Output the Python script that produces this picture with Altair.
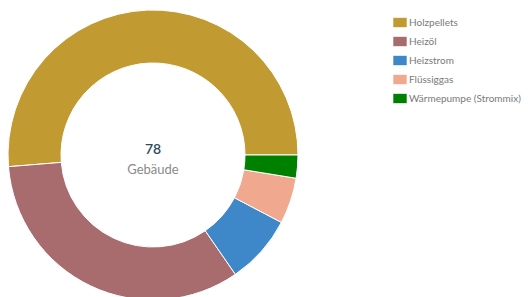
import math
import altair as alt
import pandas as pd

categories = ["Holzpellets", "Heizöl", "Heizstrom", "Flüssiggas", "Wärmepumpe (Strommix)"]
values = [40, 26, 6, 4, 2]
colors = ["#C19B32", "#A86C6F", "#3E88CA", "#F0A98E", "#008000"]
total_label = "78"
sub_label = "Gebäude"

df = pd.DataFrame({"cat": categories, "val": values, "idx": list(range(len(categories)))})
txt = pd.DataFrame({"a": [total_label], "b": [sub_label]})

CX, CY = 145, 147

arc = alt.Chart(df).mark_arc(innerRadius=92, outerRadius=145, stroke="white", strokeWidth=1).encode(
    theta=alt.Theta("val:Q", stack=True,
                    scale=alt.Scale(range=[math.pi / 2, math.pi / 2 + 2 * math.pi])),
    order=alt.Order("idx:Q", sort="descending"),
    color=alt.Color("cat:N", sort=categories,
                    scale=alt.Scale(domain=categories, range=colors),
                    legend=alt.Legend(title=None, orient="none", legendX=385, legendY=7.5,
                                      padding=0, rowPadding=7, labelOffset=2,
                                      symbolType="M-1,-0.7H1V0.7H-1Z", symbolSize=180,
                                      symbolStrokeWidth=0, labelLimit=300,
                                      labelFont="Lato", labelFontSize=10, labelColor="#7A7A7A")),
    x=alt.value(CX),
    y=alt.value(CY),
)

t1 = alt.Chart(txt).mark_text(font="Lato", fontSize=14, fontWeight=600, color="#2C4B63",
                              baseline="middle", align="center").encode(
    text="a:N", x=alt.value(CX), y=alt.value(CY - 5))
t2 = alt.Chart(txt).mark_text(font="Lato", fontSize=13, color="#8A8A8A",
                              baseline="middle", align="center").encode(
    text="b:N", x=alt.value(CX), y=alt.value(CY + 15))

chart = alt.layer(arc, t1, t2).properties(
    width=513, height=289,
    autosize=alt.AutoSizeParams(type="none"),
    padding={"left": 0, "top": 0, "right": 0, "bottom": 0},
).configure_view(stroke=None)

chart.save("out.html", embed_options={"renderer": "svg", "actions": False})
